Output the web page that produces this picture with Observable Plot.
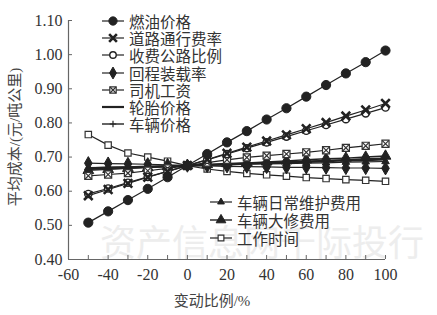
<!DOCTYPE html>
<html><head><meta charset="utf-8">
<script src="https://cdn.jsdelivr.net/npm/d3@7"></script>
<script src="https://cdn.jsdelivr.net/npm/@observablehq/plot@0.6"></script>
<style>
body{margin:0;background:#fff;}
#wrap{position:relative;width:437px;height:315px;overflow:hidden;font-family:"Noto Sans CJK SC",sans-serif;}
.wm{position:absolute;left:100px;top:214px;font-size:36px;color:#ededed;white-space:nowrap;letter-spacing:0px;font-family:"Noto Sans CJK SC";}
.row{position:absolute;height:16px;line-height:16px;display:flex;align-items:center;white-space:nowrap;font-size:15.5px;color:#333;}
.row svg{margin-right:5px;}
.ylab{position:absolute;left:13px;top:137px;transform:translate(-50%,-50%) rotate(-90deg);font-size:15px;color:#444;white-space:nowrap;}
.xlab{position:absolute;left:212px;top:299px;transform:translate(-50%,-50%);font-size:15px;color:#444;white-space:nowrap;}
.xlab span,.ylab span{font-family:"Liberation Serif",serif;}
#plot{position:absolute;left:0;top:0;}
</style></head><body>
<div id="wrap">
<div class="wm">资产信息网千际投行</div>
<div id="plot"></div>
<div class="ylab">平均成本<span>/(</span>元<span>/</span>吨公里<span>)</span></div>
<div class="xlab">变动比例<span>/%</span></div>
</div>
<script>
const xs = [-50,-40,-30,-20,-10,0,10,20,30,40,50,60,70,80,90,100];
const seriesNames = ["燃油价格","道路通行费率","收费公路比例","回程装载率","司机工资","轮胎价格","车辆价格","车辆日常维护费用","车辆大修费用","工作时间"];
const fuel      = [0.508,0.541,0.574,0.607,0.641,0.675,0.709,0.743,0.776,0.810,0.843,0.877,0.911,0.945,0.978,1.012];
const toll      = [0.587,0.605,0.623,0.641,0.658,0.675,0.693,0.711,0.729,0.747,0.765,0.783,0.801,0.820,0.838,0.857];
const tollShare = [0.592,0.608,0.625,0.642,0.658,0.675,0.692,0.709,0.726,0.743,0.760,0.777,0.794,0.811,0.828,0.845];
const backhaul  = [0.682,0.681,0.680,0.679,0.677,0.675,0.674,0.673,0.672,0.671,0.670,0.670,0.669,0.668,0.668,0.667];
const wage      = [0.645,0.649,0.653,0.660,0.667,0.675,0.684,0.692,0.699,0.704,0.709,0.714,0.720,0.727,0.733,0.739];
const tire      = [0.667,0.669,0.670,0.672,0.673,0.675,0.677,0.679,0.681,0.683,0.684,0.686,0.688,0.690,0.691,0.693];
const vehicle   = [0.664,0.666,0.668,0.670,0.673,0.675,0.677,0.679,0.682,0.684,0.686,0.688,0.690,0.692,0.695,0.697];
const maint     = [0.669,0.670,0.671,0.672,0.674,0.675,0.676,0.677,0.679,0.680,0.681,0.682,0.683,0.685,0.686,0.687];
const overhaul  = [0.661,0.664,0.667,0.669,0.672,0.675,0.678,0.681,0.683,0.686,0.689,0.692,0.695,0.697,0.700,0.703];
const worktime  = [0.766,0.735,0.712,0.700,0.688,0.675,0.665,0.658,0.652,0.648,0.644,0.640,0.637,0.634,0.632,0.629];
const yTicks = [0.4,0.5,0.6,0.7,0.8,0.9,1.0,1.1];
const xTickLabels = [-60,-40,-20,0,20,40,60,80,100];
const xTicksMinor = [-60,-50,-40,-30,-20,-10,0,10,20,30,40,50,60,70,80,90,100];

const values = [fuel,toll,tollShare,backhaul,wage,tire,vehicle,maint,overhaul,worktime];
const styles = [
  {sym:"circle", r:4.6, fill:"#222", stroke:"#222", sw:1, lw:1.2},
  {sym:"times", r:4, fill:"none", stroke:"#222", sw:2.6, lw:1.2},
  {sym:"circle", r:3.6, fill:"#fff", stroke:"#222", sw:1.4, lw:1.2},
  {sym:"diamond", r:4, fill:"#222", stroke:"#222", sw:1, lw:1.2},
  {sym:"square", r:4, fill:"#fff", stroke:"#333", sw:1.2, lw:1.2, extra:"times"},
  {sym:null, lw:2.2},
  {sym:"plus", r:2.5, fill:"none", stroke:"#222", sw:1.2, lw:1.4},
  {sym:"triangle", r:2.8, fill:"#222", stroke:"#222", sw:1, lw:1.2},
  {sym:"triangle", r:4, fill:"#222", stroke:"#222", sw:1, lw:1.4},
  {sym:"square", r:3.6, fill:"#fff", stroke:"#333", sw:1.2, lw:1.2}
];
const rows = seriesNames.map((s,i)=>xs.map((x,j)=>({series:s, x, y:values[i][j]})));

const marks = [
  Plot.ruleX([-60],{stroke:"#666", strokeWidth:1.2}),
  Plot.ruleY([0.4],{stroke:"#666", strokeWidth:1.2}),
  Plot.axisY({ticks:yTicks, tickFormat:d=>d.toFixed(2), tickSize:-4, tickPadding:10, stroke:"#666", label:null,
    fontSize:16, fontFamily:"Liberation Serif", fill:"#333"}),
  Plot.axisX({ticks:xTicksMinor, tickFormat:()=>"", tickSize:-4, stroke:"#666", label:null}),
  Plot.axisX({ticks:xTickLabels, tickSize:0, tickPadding:9, fontSize:16, fontFamily:"Liberation Serif", fill:"#333", label:null, tickFormat:d=>String(d)})
];
const drawOrder = [9,5,6,7,8,3,4,2,1,0];
for (const i of drawOrder) {
  marks.push(Plot.line(rows[i], {x:"x", y:"y", stroke:"#222", strokeWidth:styles[i].lw}));
}
for (const i of drawOrder) {
  const st = styles[i];
  if (!st.sym) continue;
  marks.push(Plot.dot(rows[i], {x:"x", y:"y", symbol:st.sym, r:st.r, fill:st.fill, stroke:st.stroke, strokeWidth:st.sw}));
  if (st.extra) marks.push(Plot.dot(rows[i], {x:"x", y:"y", symbol:st.extra, r:st.r*0.8, stroke:"#333", strokeWidth:1.2}));
}

const chart = Plot.plot({
  width:437, height:315,
  marginLeft:68, marginRight:52, marginTop:20, marginBottom:56,
  x:{domain:[-60,100], label:null},
  y:{domain:[0.4,1.1], label:null},
  style:{background:"transparent", overflow:"visible"},
  marks
});
document.getElementById("plot").appendChild(chart);

const symMap = {circle:d3.symbolCircle, times:d3.symbolTimes, diamond:d3.symbolDiamond, square:d3.symbolSquare, plus:d3.symbolPlus, triangle:d3.symbolTriangle};
function symPath(name, r){ return d3.symbol(symMap[name], Math.PI*r*r)(); }
function legendRow(i, left, top){
  const st = styles[i];
  const div = document.createElement("div");
  div.className = "row";
  div.style.left = left+"px"; div.style.top = (top-8)+"px";
  let inner = `<line x1="0" x2="22" y1="8" y2="8" stroke="#222" stroke-width="${st.lw}"/>`;
  if (st.sym) {
    inner += `<path transform="translate(11,8)" d="${symPath(st.sym, st.r*0.9)}" fill="${st.fill}" stroke="${st.stroke}" stroke-width="${st.sw}"/>`;
    if (st.extra) inner += `<path transform="translate(11,8)" d="${symPath(st.extra, st.r*0.7)}" fill="none" stroke="#333" stroke-width="1.2"/>`;
  }
  div.innerHTML = `<svg width="22" height="16">${inner}</svg><span>${seriesNames[i]}</span>`;
  document.getElementById("wrap").appendChild(div);
}
const leg1Tops = [21,38.2,55.4,72.6,89.8,107,124.2];
for (let i=0;i<7;i++) legendRow(i, 102, leg1Tops[i]);
const leg2Tops = [202,220,238];
for (let i=0;i<3;i++) legendRow(7+i, 210, leg2Tops[i]);
</script>
</body></html>
